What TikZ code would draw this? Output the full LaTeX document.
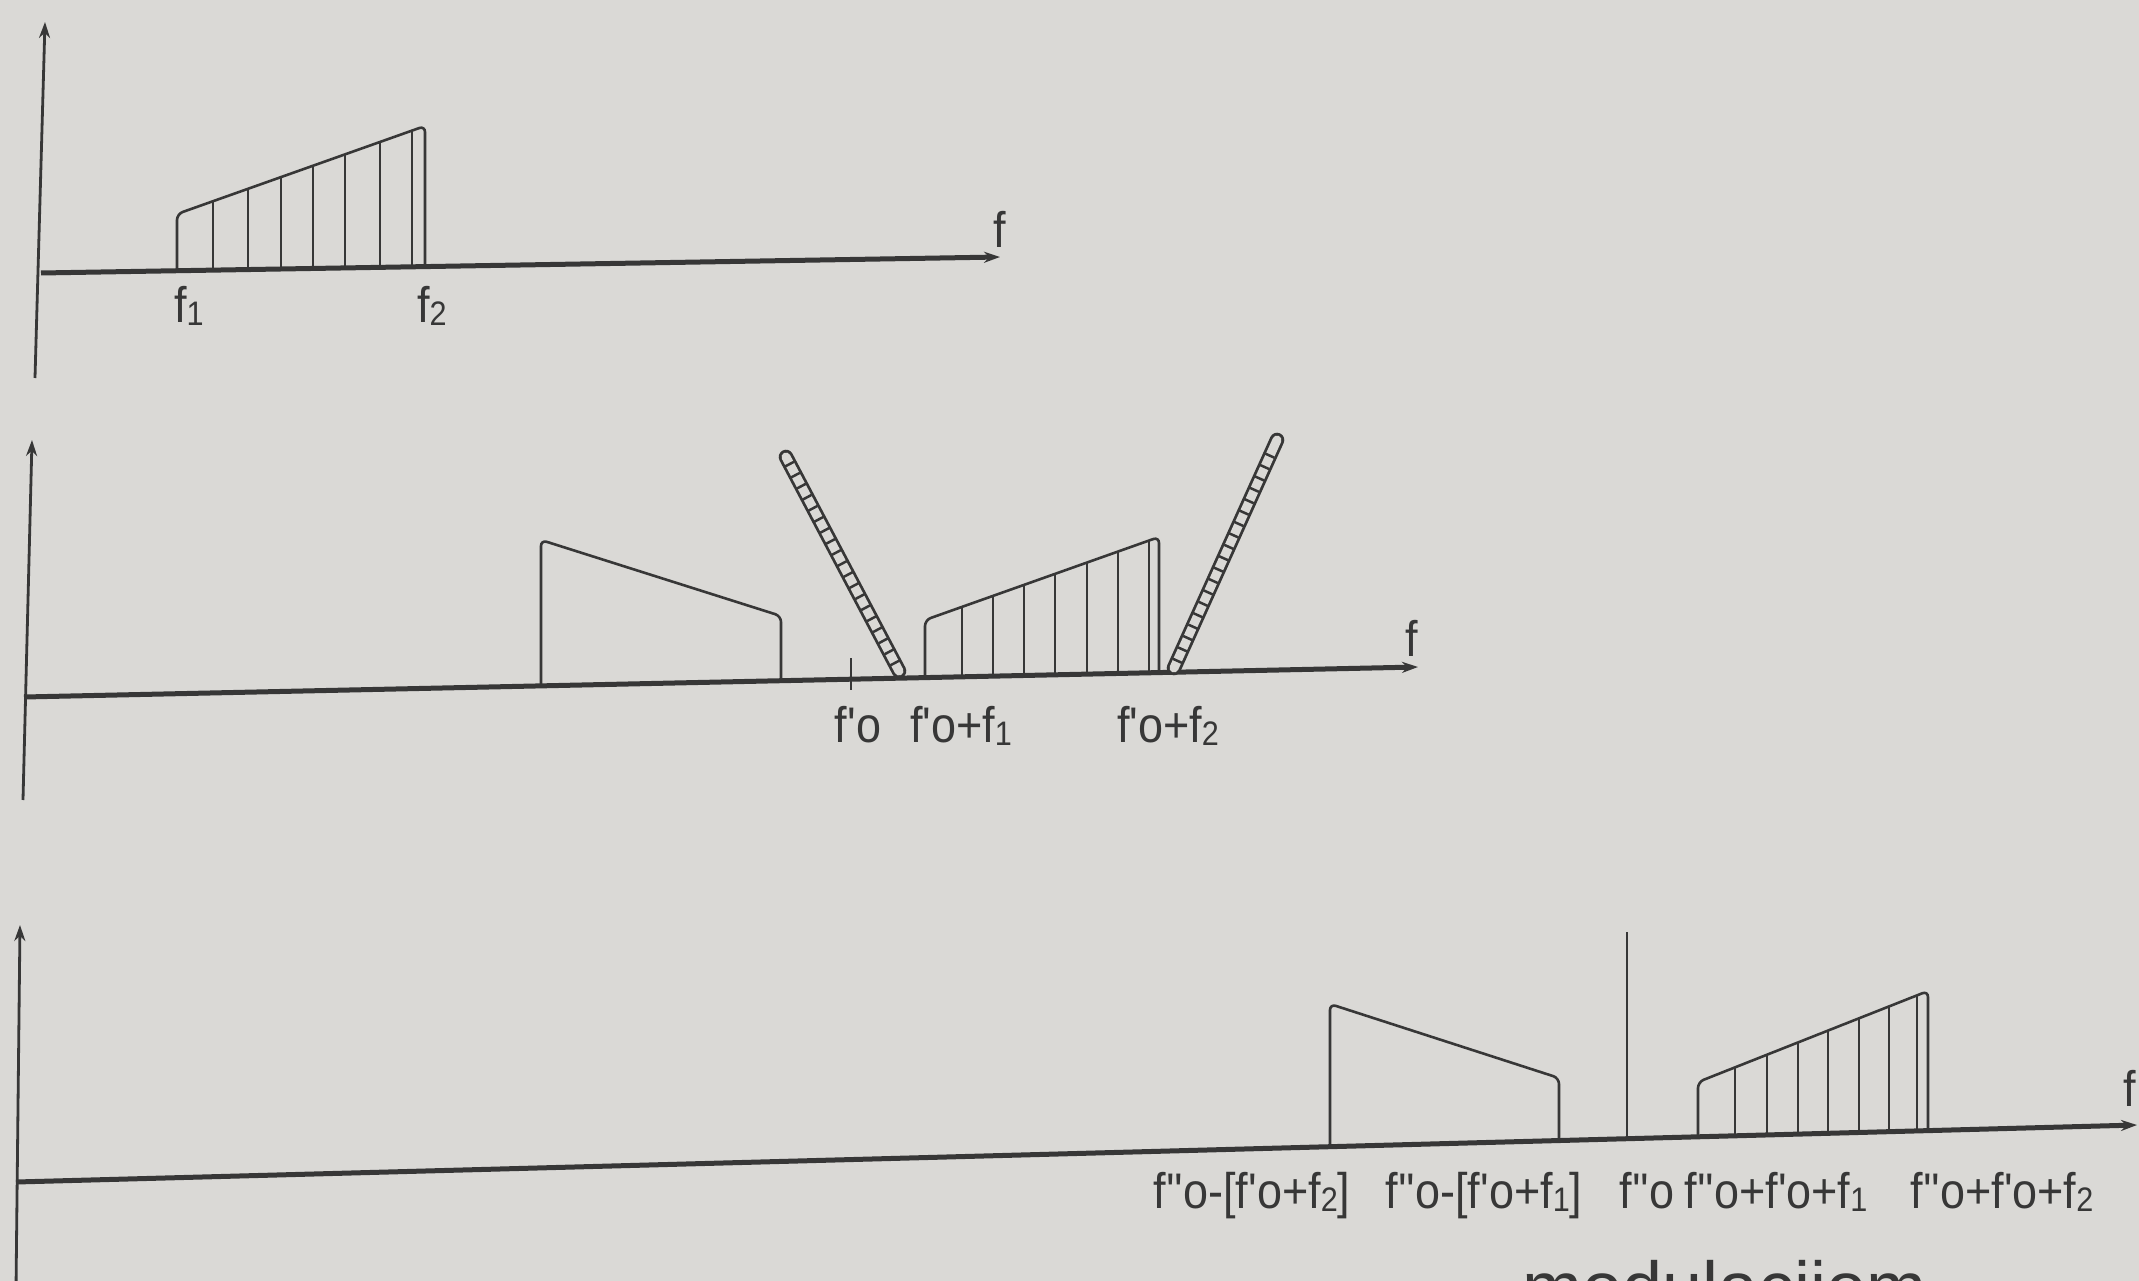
\documentclass[tikz,border=0pt]{standalone}
\usepackage{fontspec}
\newfontfamily\lblfont[FakeStretch=0.9]{Liberation Sans}
\newfontfamily\capfont{Liberation Sans}
\usetikzlibrary{arrows.meta}
\definecolor{paper}{RGB}{218,217,214}
\definecolor{ink}{RGB}{55,55,55}
\newcommand{\lsub}[1]{\raisebox{-3pt}{\fontsize{34}{34}\selectfont #1}}
\tikzset{
  axisline/.style={draw=ink, line width=5pt},
  yaxisline/.style={draw=ink, line width=2.8pt},
  arrowtip/.style={-{Stealth[length=16pt,width=11pt]}},
  spec/.style={draw=ink, line width=2.6pt, rounded corners=6pt},
  bar/.style={draw=ink, line width=2.4pt},
  lbl/.style={font=\lblfont\fontsize{50}{54}\selectfont, text=ink, inner sep=0pt, anchor=base},
  ladder/.style={draw=ink, line width=2.8pt, double=paper, double distance=9pt, line cap=round},
  rungs/.style={draw=ink, line width=10pt, dash pattern=on 2.5pt off 10pt},
}
\begin{document}
\begin{tikzpicture}[x=1pt,y=-1pt]
\fill[paper] (0,0) rectangle (2139,1281);
\useasboundingbox (0,0) rectangle (2139,1281);

% ---------- panel 1 ----------
\draw[yaxisline, arrowtip] (35,378) -- (45,22);
\draw[axisline, arrowtip] (41,273) -- (1000,257);
\draw[spec] (177,270.7) -- (177,214) -- (425,126) -- (425,266.6);
\foreach \x in {213,248,281,313,345,380,412}
  \draw[bar] (\x,{273-0.01672*(\x-41)}) -- (\x,{214-0.3548*(\x-177)});
\node[lbl] (f1) at (189,323) {f\lsub{1}};
\node[lbl] (f2) at (432,323) {f\lsub{2}};
\node[lbl] (fa1) at (1000,248) {f};

% ---------- panel 2 ----------
\draw[yaxisline, arrowtip] (23,800) -- (32,440);
\draw[axisline, arrowtip] (24,697) -- (1418,667);
\draw[spec] (541,685.9) -- (541,540) -- (781,616) -- (781,680.7);
\draw[bar] (851,658) -- (851,690);
\draw[spec] (925,677.6) -- (925,620) -- (1159,537) -- (1159,672.5);
\foreach \x in {962,993,1024,1055,1087,1118,1149}
  \draw[bar] (\x,{697-0.02163*(\x-28)}) -- (\x,{620-0.3547*(\x-925)});
\draw[ladder] (786,457) -- (899,671);
\draw[rungs] (789,463) -- (896,665);
\draw[ladder] (1174,668) -- (1277,440);
\draw[rungs] (1177,662) -- (1274,446);
\node[lbl] (fo) at (858,742) {f'o};
\node[lbl] (fof1) at (961,742) {f'o+f\lsub{1}};
\node[lbl] (fof2) at (1168,742) {f'o+f\lsub{2}};
\node[lbl] (fa2) at (1412,656) {f};

% ---------- panel 3 ----------
\draw[yaxisline, arrowtip] (16,1290) -- (20,925);
\draw[axisline, arrowtip] (16,1182) -- (2137,1125);
\draw[spec] (1330,1146.7) -- (1330,1004) -- (1559,1078) -- (1559,1140.5);
\draw[bar] (1627,1138.7) -- (1627,932);
\draw[spec] (1698,1136.8) -- (1698,1082) -- (1928,991) -- (1928,1130.6);
\foreach \x in {1735,1767,1798,1828,1859,1889,1917}
  \draw[bar] (\x,{1182-0.02695*(\x-20)}) -- (\x,{1082-0.3957*(\x-1698)});
\node[lbl] (l1) at (1252,1208) {f''o-[f'o+f\lsub{2}]};
\node[lbl] (l2) at (1484,1208) {f''o-[f'o+f\lsub{1}]};
\node[lbl] (l3) at (1647,1208) {f''o};
\node[lbl] (l4) at (1776,1208) {f''o+f'o+f\lsub{1}};
\node[lbl] (l5) at (2002,1208) {f''o+f'o+f\lsub{2}};
\node[lbl] (fa3) at (2130,1106) {f};

\node[font=\capfont\fontsize{72}{72}\selectfont, text=ink, anchor=base west, inner sep=0pt] (cap) at (1522,1312) {modulacijom};
\end{tikzpicture}
\end{document}
